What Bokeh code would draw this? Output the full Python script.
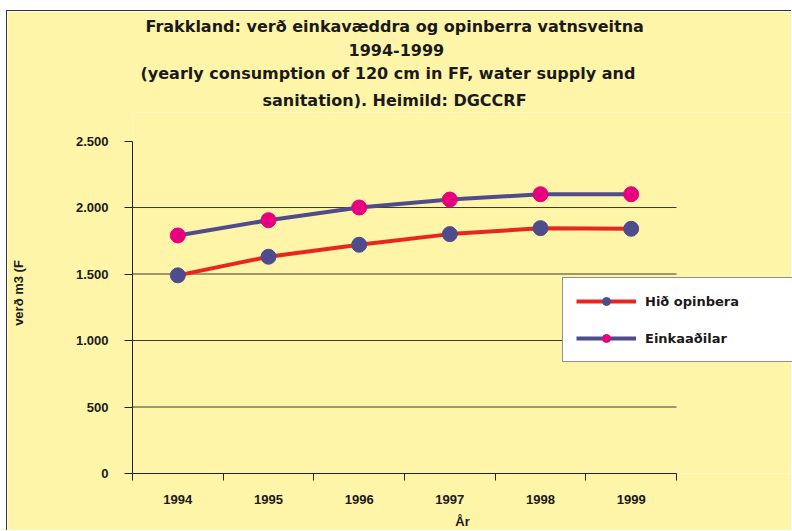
from bokeh.plotting import figure
from bokeh.models import Range1d, FixedTicker, Title, Legend, LegendItem
from bokeh.embed import file_html
from bokeh.resources import INLINE

years = ["1994", "1995", "1996", "1997", "1998", "1999"]
hid_opinbera = [1490, 1630, 1720, 1800, 1845, 1840]
einkaadilar = [1790, 1905, 2000, 2060, 2100, 2100]
y_ticks = [0, 500, 1000, 1500, 2000, 2500]
y_tick_labels = ["0", "500", "1.000", "1.500", "2.000", "2.500"]
grid_values = [500, 1000, 1500, 2000]
title_lines = [
    "Frakkland: verð einkavæddra og opinberra vatnsveitna",
    "1994-1999",
    "(yearly consumption of 120 cm in FF, water supply and",
    "sanitation). Heimild: DGCCRF",
]
series_names = ["Hið opinbera", "Einkaaðilar"]

BG = "#FFF5A8"
FONT = "Liberation Sans"
TFONT = "DejaVu Sans"
DARK = "#222222"
TXT = "#1a1a1a"

# ---- layout (pixels) ----
W, H = 785, 520
LEFT, TOP, BOTTOM = 125, 98, 55          # frame borders
AX_TOP = 127                              # pixel row of the 2500 tick
AX_RIGHT = 669                            # pixel column of the x-axis end
frame_w = W - LEFT
frame_h = H - TOP - BOTTOM
ymax = y_ticks[-1]
n = len(years)
x_end = n * frame_w / (AX_RIGHT - LEFT)
y_end = ymax * frame_h / (H - BOTTOM - AX_TOP)

# category slots: each year occupies one unit, centred at i + 0.5
xc = [i + 0.5 for i in range(n)]
bounds = list(range(n + 1))

p = figure(width=W, height=H,
           x_range=Range1d(0, x_end), y_range=Range1d(0, y_end),
           output_backend="svg", toolbar_location=None,
           title=title_lines[0],
           min_border_left=LEFT, min_border_right=0,
           min_border_top=TOP, min_border_bottom=BOTTOM,
           background_fill_color=BG, background_fill_alpha=1.0,
           border_fill_color=BG, border_fill_alpha=1.0)
p.styles = {"margin-left": "6px", "margin-top": "10px",
            "border-left": "1px solid #333333", "border-top": "1px solid #333333"}
p.outline_line_color = None
p.xgrid.visible = False
p.ygrid.visible = False

# titles (first added = closest to the plot; p.title is outermost)
offsets = [13, 216, 8, 130]
p.title.align = "left"
p.title.offset = offsets[0]
p.title.text_font = TFONT
p.title.text_font_size = "16px"
p.title.text_font_style = "bold"
p.title.text_color = TXT
p.title.standoff = 6
for idx in [3, 2, 1]:
    p.add_layout(Title(text=title_lines[idx], align="left", offset=offsets[idx],
                       text_font=TFONT, text_font_size="16px", text_color=TXT,
                       text_font_style="bold", standoff=6), "above")

# y axis
yax = p.yaxis[0]
yax.bounds = (0, ymax)
yax.ticker = FixedTicker(ticks=y_ticks)
yax.major_label_overrides = {t: l for t, l in zip(y_ticks, y_tick_labels)}
yax.major_tick_out = 8
yax.major_tick_in = 0
yax.minor_tick_out = 0
yax.minor_tick_in = 0
yax.major_label_standoff = 16
yax.major_label_text_font = FONT
yax.major_label_text_font_style = "bold"
yax.major_label_text_font_size = "13px"
yax.major_label_text_color = TXT
yax.axis_label = "verð m3 (F"
yax.axis_label_text_font = FONT
yax.axis_label_text_font_style = "bold"
yax.axis_label_text_font_size = "13px"
yax.axis_label_text_color = TXT
yax.axis_label_standoff = 47
yax.axis_line_color = DARK
yax.major_tick_line_color = DARK

# x axis: labels at slot centres, ticks at slot boundaries
xax = p.xaxis[0]
xax.bounds = (0, n)
xax.ticker = FixedTicker(ticks=xc, minor_ticks=bounds)
xax.major_label_overrides = {c: y for c, y in zip(xc, years)}
xax.major_tick_out = 0
xax.major_tick_in = 0
xax.minor_tick_out = 7
xax.minor_tick_in = 0
xax.minor_tick_line_color = DARK
xax.axis_line_color = DARK
xax.major_label_standoff = 14
xax.major_label_text_font = FONT
xax.major_label_text_font_style = "bold"
xax.major_label_text_font_size = "13px"
xax.major_label_text_color = TXT
xax.axis_label = "År"
xax.axis_label_text_font = FONT
xax.axis_label_text_font_style = "bold"
xax.axis_label_text_font_size = "13px"
xax.axis_label_text_color = TXT
xax.axis_label_standoff = 7

# horizontal grid lines spanning only the category slots
p.segment(x0=[0] * len(grid_values), x1=[n] * len(grid_values),
          y0=grid_values, y1=grid_values, line_color="#3a3a30", line_width=1)

# data
l1 = p.line(xc, hid_opinbera, line_color="#E8261E", line_width=4)
s1 = p.scatter(xc, hid_opinbera, size=15, fill_color="#4F4C8E", line_color="#4F4C8E")
l2 = p.line(xc, einkaadilar, line_color="#4F4C8E", line_width=4)
s2 = p.scatter(xc, einkaadilar, size=15, fill_color="#E6007E", line_color="#E6007E")

legend = Legend(items=[LegendItem(label=series_names[0], renderers=[l1, s1]),
                       LegendItem(label=series_names[1], renderers=[l2, s2])],
                location=(430, 111), orientation="vertical",
                glyph_width=60, glyph_height=20, label_height=20, label_width=135,
                label_standoff=9, spacing=17, padding=13, margin=0,
                label_text_font=TFONT, label_text_font_style="bold",
                label_text_font_size="13px", label_text_color=TXT,
                background_fill_color="white", background_fill_alpha=1.0,
                border_line_color=DARK, border_line_width=1)
p.add_layout(legend, "center")

open("out.html", "w").write(file_html(p, INLINE))
